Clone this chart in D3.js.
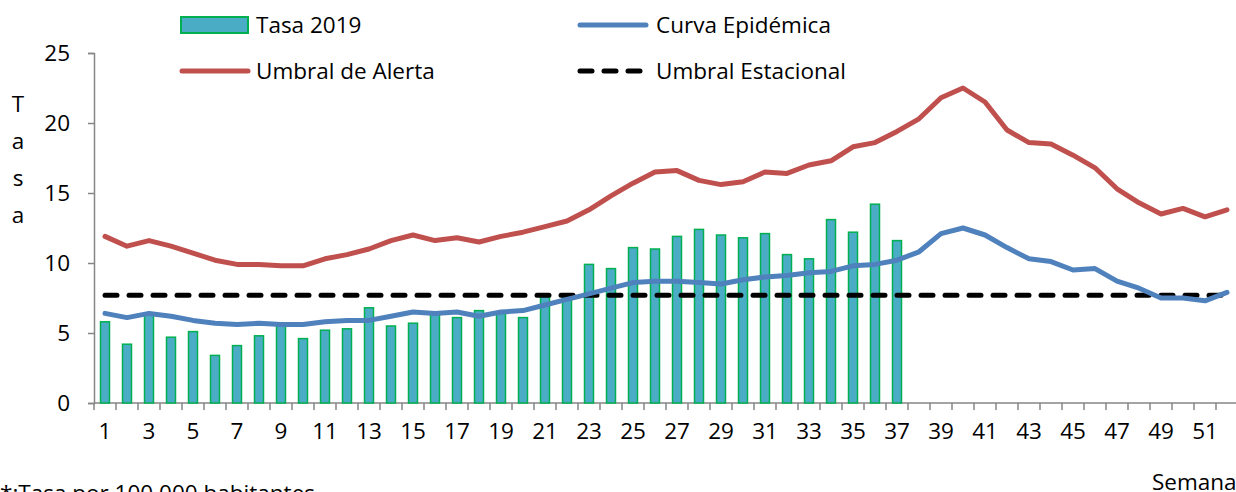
<!DOCTYPE html>
<html>
<head>
<meta charset="utf-8">
<script src="https://cdn.jsdelivr.net/npm/d3@7"></script>
<style>
  body { margin: 0; background: #fff; }
  svg { display: block; font-family: "Open Sans", "Liberation Sans", sans-serif; }
</style>
</head>
<body>
<svg id="chart" width="1236" height="492"></svg>
<script>
const semanas = d3.range(1, 53);

// Tasa 2019 (weeks 1-37)
const tasa2019 = [
    5.8, 4.2, 6.3, 4.7, 5.1, 3.4, 4.1, 4.8, 5.7, 4.6,
    5.2, 5.3, 6.8, 5.5, 5.7, 6.5, 6.1, 6.6, 6.4, 6.1,
    7.6, 7.8, 9.9, 9.6, 11.1, 11.0, 11.9, 12.4, 12.0, 11.8,
    12.1, 10.6, 10.3, 13.1, 12.2, 14.2, 11.6
];

const curvaEpidemica = [
    6.4, 6.1, 6.4, 6.2, 5.9, 5.7, 5.6, 5.7, 5.6, 5.6,
    5.8, 5.9, 5.9, 6.2, 6.5, 6.4, 6.5, 6.2, 6.5, 6.6,
    7.0, 7.4, 7.8, 8.2, 8.6, 8.7, 8.7, 8.6, 8.5, 8.8,
    9.0, 9.1, 9.3, 9.4, 9.8, 9.9, 10.2, 10.8, 12.1, 12.5,
    12.0, 11.1, 10.3, 10.1, 9.5, 9.6, 8.7, 8.2, 7.5, 7.5,
    7.3, 7.9
];

const umbralAlerta = [
    11.9, 11.2, 11.6, 11.2, 10.7, 10.2, 9.9, 9.9, 9.8, 9.8,
    10.3, 10.6, 11.0, 11.6, 12.0, 11.6, 11.8, 11.5, 11.9, 12.2,
    12.6, 13.0, 13.8, 14.8, 15.7, 16.5, 16.6, 15.9, 15.6, 15.8,
    16.5, 16.4, 17.0, 17.3, 18.3, 18.6, 19.4, 20.3, 21.8, 22.5,
    21.5, 19.5, 18.6, 18.5, 17.7, 16.8, 15.3, 14.3, 13.5, 13.9,
    13.3, 13.8
];

const umbralEstacional = 7.7;

const yTicks = [0, 5, 10, 15, 20, 25];

const COLOR_BAR = "#4BACC6";
const COLOR_BAR_STROKE = "#00B050";
const COLOR_ALERTA = "#C0504D";
const COLOR_CURVA = "#4F81BD";
const COLOR_AXIS = "#868686";
const FONT = "'Open Sans', sans-serif";
const FONT_SIZE = "22.5px";

const svg = d3.select("#chart");

const plotLeft = 94, plotTop = 53, plotBottom = 403, step = 22;

const x = d3.scaleBand()
    .domain(semanas)
    .range([plotLeft, plotLeft + step * semanas.length])
    .padding(0);
const xc = (d) => x(d) + x.bandwidth() / 2;

const y = d3.scaleLinear()
    .domain([0, 25])
    .range([plotBottom, plotTop]);

// Y axis
const yAxisG = svg.append("g")
    .attr("transform", `translate(${plotLeft},0)`)
    .call(d3.axisLeft(y).tickValues(yTicks).tickSize(6).tickPadding(18));
yAxisG.select(".domain").attr("stroke", COLOR_AXIS).attr("stroke-width", 1.5);
yAxisG.selectAll(".tick line").attr("stroke", COLOR_AXIS).attr("stroke-width", 1.5);
yAxisG.selectAll("text")
    .style("font-size", FONT_SIZE)
    .style("font-family", FONT)
    .attr("fill", "#000");

// X axis baseline + boundary ticks
svg.append("line")
    .attr("x1", plotLeft).attr("x2", x.range()[1])
    .attr("y1", plotBottom).attr("y2", plotBottom)
    .attr("stroke", COLOR_AXIS).attr("stroke-width", 1.5);

svg.append("g").selectAll("line")
    .data(semanas.concat([null]))
    .join("line")
    .attr("x1", (d) => d === null ? x.range()[1] : x(d))
    .attr("x2", (d) => d === null ? x.range()[1] : x(d))
    .attr("y1", plotBottom).attr("y2", plotBottom + 7)
    .attr("stroke", COLOR_AXIS).attr("stroke-width", 1.5);

const xAxisG = svg.append("g")
    .attr("transform", `translate(0,${plotBottom})`)
    .call(d3.axisBottom(x).tickSize(0).tickPadding(20)
        .tickFormat((d) => d % 2 === 1 ? d : ""));
xAxisG.select(".domain").remove();
xAxisG.selectAll("text")
    .style("font-size", FONT_SIZE)
    .style("font-family", FONT)
    .attr("fill", "#000");

// Bars
const barW = 9;
svg.append("g").selectAll("rect")
    .data(tasa2019)
    .join("rect")
    .attr("x", (d, i) => xc(semanas[i]) - barW / 2)
    .attr("y", (d) => y(d))
    .attr("width", barW)
    .attr("height", (d) => y(0) - y(d))
    .attr("fill", COLOR_BAR)
    .attr("stroke", COLOR_BAR_STROKE)
    .attr("stroke-width", 1.5);

// Umbral estacional (dashed)
svg.append("line")
    .attr("x1", xc(semanas[0]))
    .attr("x2", xc(semanas[semanas.length - 1]))
    .attr("y1", y(umbralEstacional))
    .attr("y2", y(umbralEstacional))
    .attr("stroke", "#000")
    .attr("stroke-width", 5)
    .attr("stroke-linecap", "round")
    .attr("stroke-dasharray", "12,12");

const line = d3.line()
    .x((d, i) => xc(semanas[i]))
    .y((d) => y(d));

// Curva epidemica
svg.append("path")
    .datum(curvaEpidemica)
    .attr("fill", "none")
    .attr("stroke", COLOR_CURVA)
    .attr("stroke-width", 5)
    .attr("stroke-linejoin", "round")
    .attr("stroke-linecap", "round")
    .attr("d", line);

// Umbral de alerta
svg.append("path")
    .datum(umbralAlerta)
    .attr("fill", "none")
    .attr("stroke", COLOR_ALERTA)
    .attr("stroke-width", 5)
    .attr("stroke-linejoin", "round")
    .attr("stroke-linecap", "round")
    .attr("d", line);

// Legend
const legend = svg.append("g").style("font-size", FONT_SIZE);

legend.append("rect")
    .attr("x", 181).attr("y", 17)
    .attr("width", 67).attr("height", 16)
    .attr("fill", COLOR_BAR)
    .attr("stroke", COLOR_BAR_STROKE)
    .attr("stroke-width", 2);
legend.append("text").attr("x", 256).attr("y", 33).text("Tasa 2019");

legend.append("line")
    .attr("x1", 182).attr("x2", 248)
    .attr("y1", 71).attr("y2", 71)
    .attr("stroke", COLOR_ALERTA).attr("stroke-width", 5)
    .attr("stroke-linecap", "round");
legend.append("text").attr("x", 256).attr("y", 79).text("Umbral de Alerta");

legend.append("line")
    .attr("x1", 580).attr("x2", 646)
    .attr("y1", 25).attr("y2", 25)
    .attr("stroke", COLOR_CURVA).attr("stroke-width", 5)
    .attr("stroke-linecap", "round");
legend.append("text").attr("x", 656).attr("y", 33).text("Curva Epidémica");

legend.append("line")
    .attr("x1", 580).attr("x2", 646)
    .attr("y1", 71).attr("y2", 71)
    .attr("stroke", "#000").attr("stroke-width", 5)
    .attr("stroke-linecap", "round")
    .attr("stroke-dasharray", "12,12");
legend.append("text").attr("x", 656).attr("y", 79).text("Umbral Estacional");

// Y title: stacked letters
const yTitle = svg.append("text")
    .attr("x", 18).attr("y", 112)
    .attr("text-anchor", "middle")
    .style("font-size", FONT_SIZE);
["T", "a", "s", "a"].forEach((ch, i) => {
    yTitle.append("tspan")
        .attr("x", 18)
        .attr("dy", i === 0 ? 0 : 37)
        .text(ch);
});

// X title and footnote
svg.append("text")
    .attr("x", 1152).attr("y", 490)
    .style("font-size", FONT_SIZE)
    .text("Semana");

svg.append("text")
    .attr("x", 0).attr("y", 501)
    .style("font-size", FONT_SIZE)
    .text("*:Tasa por 100.000 habitantes");
</script>
</body>
</html>
